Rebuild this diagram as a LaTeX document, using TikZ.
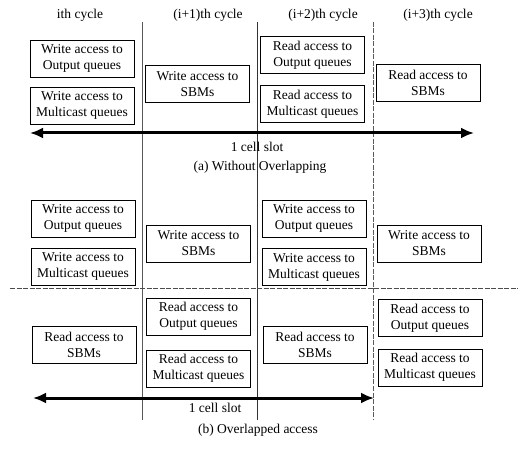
\documentclass[tikz,border=0pt]{standalone}
\usepackage{fontspec}
\setmainfont{Liberation Serif}
\usetikzlibrary{arrows.meta}
\begin{document}
\begin{tikzpicture}[x=1pt,y=-1pt,
  every node/.style={font=\fontsize{13.5}{16}\selectfont, inner sep=0pt},
  accbox/.style={draw, line width=0.9pt, minimum width=104pt, minimum height=37pt, align=center},
  lbl/.style={font=\fontsize{13.5}{16}\selectfont},
  vline/.style={line width=0.7pt, black!65},
  hline/.style={line width=0.7pt, black!70, dash pattern=on 5pt off 1.5pt},
  slot/.style={line width=3pt, {Latex[length=13pt,width=11pt]}-{Latex[length=13pt,width=11pt]}}
]
\useasboundingbox (0,0) rectangle (520,449);
% column lines
\coordinate (v1t) at (142,22); \coordinate (v1b) at (142,420);
\coordinate (v2t) at (257,22); \coordinate (v2b) at (257,420);
\coordinate (v3t) at (373,22); \coordinate (v3b) at (373,420);
\draw[vline] (v1t) -- (v1b);
\draw[vline, black!80] (v2t) -- (v2b);
\draw[vline, dash pattern=on 5pt off 1.5pt] (v3t) -- (v3b);
% headers
\node[lbl] (h1) at (80,15) {ith cycle};
\node[lbl] (h2) at (208,15) {(i+1)th cycle};
\node[lbl] (h3) at (323,15) {(i+2)th cycle};
\node[lbl] (h4) at (438,15) {(i+3)th cycle};
% part (a)
\node[accbox] (aw1) at (82,58.5) {Write access to\\Output queues};
\node[accbox] (am1) at (82,105.5) {Write access to\\Multicast queues};
\node[accbox] (as2) at (197.5,84) {Write access to\\SBMs};
\node[accbox] (ar3) at (312.5,55) {Read access to\\Output queues};
\node[accbox] (arm3) at (312.5,104) {Read access to\\Multicast queues};
\node[accbox] (ars4) at (428,83) {Read access to\\SBMs};
\coordinate (a1) at (30,133); \coordinate (a2) at (474,133);
\draw[slot] (a1) -- (a2);
\node[lbl] (sa) at (257,147) {1 cell slot};
\node[lbl] (capa) at (260,167) {(a) Without Overlapping};
% part (b)
\node[accbox] (bw1) at (83,218.5) {Write access to\\Output queues};
\node[accbox] (bm1) at (83,266.5) {Write access to\\Multicast queues};
\node[accbox] (bs2) at (198.5,243.5) {Write access to\\SBMs};
\node[accbox] (bw3) at (314,218.5) {Write access to\\Output queues};
\node[accbox] (bm3) at (314,267) {Write access to\\Multicast queues};
\node[accbox] (bs4) at (429,243.5) {Write access to\\SBMs};
\coordinate (d1) at (10,288); \coordinate (d2) at (518,288);
\draw[hline] (d1) -- (d2);
\node[accbox] (br1) at (84,344.5) {Read access to\\SBMs};
\node[accbox] (bro2) at (198.5,316.5) {Read access to\\Output queues};
\node[accbox] (brm2) at (198.5,368.5) {Read access to\\Multicast queues};
\node[accbox] (br3) at (315,344.5) {Read access to\\SBMs};
\node[accbox] (bro4) at (430,318) {Read access to\\Output queues};
\node[accbox] (brm4) at (430,367.5) {Read access to\\Multicast queues};
\coordinate (b1) at (33,398); \coordinate (b2) at (374,398);
\draw[slot] (b1) -- (b2);
\node[lbl] (sb) at (215,408) {1 cell slot};
\node[lbl] (capb) at (258,430) {(b) Overlapped access};
\end{tikzpicture}
\end{document}
